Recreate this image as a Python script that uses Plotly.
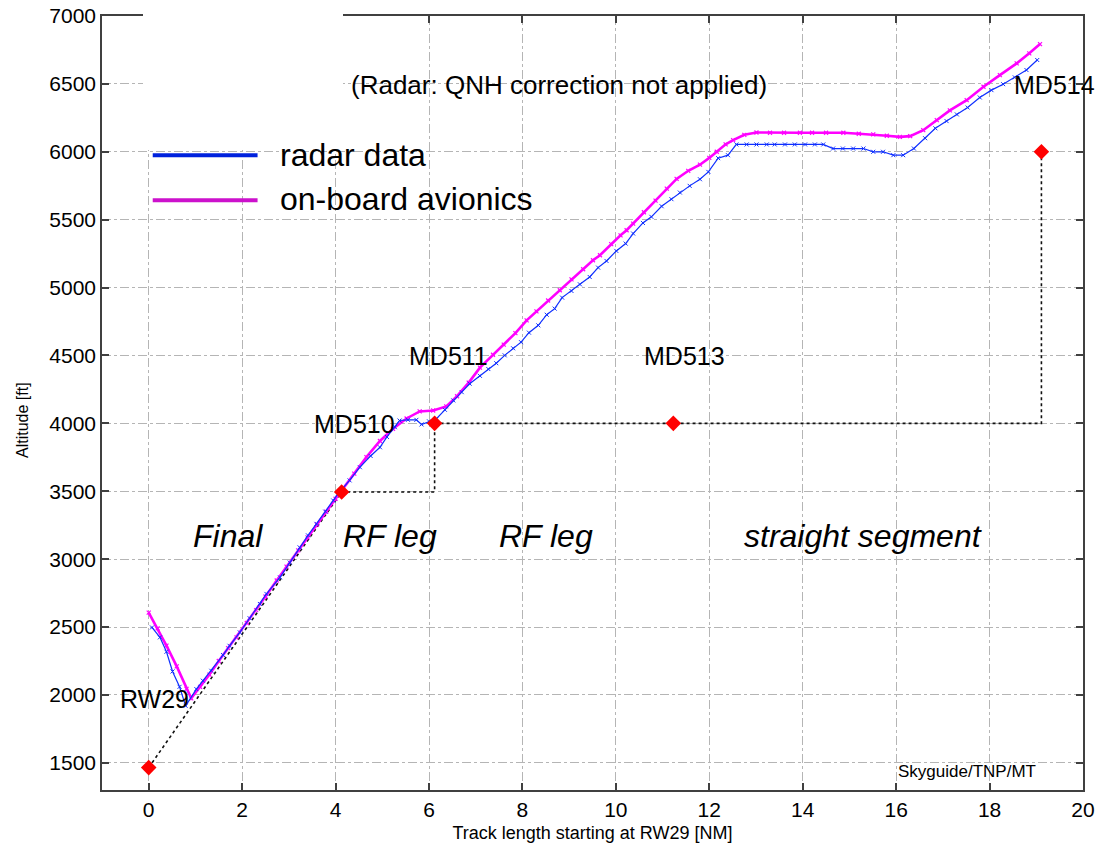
import plotly.graph_objects as go

# ---------------- data ----------------
radar_x = [0.07, 0.24, 0.38, 0.51, 0.66, 0.79, 1.02, 1.16, 1.34, 1.59, 1.73, 1.95, 2.16, 2.38, 2.52,
           2.81, 3.02, 3.23, 3.41, 3.59, 3.78, 3.95, 4.05, 4.30, 4.52, 4.75, 4.95, 5.10, 5.27, 5.37,
           5.55, 5.73, 5.84, 6.00, 6.16, 6.34, 6.52, 6.70, 6.87, 7.09, 7.27, 7.44, 7.62, 7.80, 7.97,
           8.14, 8.34, 8.52, 8.69, 8.85, 9.05, 9.23, 9.44, 9.62, 9.80, 10.01, 10.21, 10.37, 10.58,
           10.76, 10.98, 11.19, 11.37, 11.58, 11.80, 11.98, 12.19, 12.40, 12.58, 12.80, 13.01, 13.23,
           13.40, 13.62, 13.83, 14.05, 14.26, 14.44, 14.65, 14.86, 15.08, 15.30, 15.51, 15.72, 15.94,
           16.15, 16.38, 16.62, 16.84, 17.08, 17.30, 17.53, 17.79, 18.04, 18.29, 18.54, 18.79, 19.02]
radar_alt = [2497, 2424, 2318, 2173, 2060, 1920, 2043, 2105, 2178, 2294, 2362, 2461, 2565, 2670, 2744,
             2866, 2975, 3087, 3175, 3260, 3350, 3432, 3481, 3580, 3677, 3760, 3824, 3900, 3972, 4021,
             4026, 4026, 3992, 4015, 4034, 4100, 4169, 4230, 4292, 4350, 4400, 4443, 4501, 4553, 4598,
             4668, 4722, 4800, 4845, 4926, 4975, 5024, 5078, 5147, 5196, 5270, 5324, 5398, 5476,
             5521, 5599, 5651, 5700, 5749, 5798, 5852, 5953, 5975, 6054, 6054, 6054, 6054,
             6054, 6054, 6054, 6054, 6054, 6054, 6024, 6024, 6024, 6024, 6000, 6000, 5975,
             5975, 6024, 6100, 6173, 6226, 6275, 6326, 6400, 6454, 6498, 6548, 6602, 6676]

avionics_x = [0.00, 0.19, 0.38, 0.60, 0.81, 0.91, 1.10, 1.30, 1.50, 1.70, 1.88, 2.10, 2.30, 2.50, 2.74,
              2.95, 3.20, 3.40, 3.60, 3.80, 4.00, 4.13, 4.40, 4.66, 4.95, 5.23, 5.52, 5.80, 6.09, 6.37,
              6.60, 6.85, 7.09, 7.37, 7.60, 7.85, 8.09, 8.30, 8.55, 8.80, 9.05, 9.30, 9.51, 9.66, 9.90,
              10.10, 10.23, 10.37, 10.60, 10.85, 11.09, 11.30, 11.55, 11.80, 12.00, 12.16, 12.35, 12.51,
              12.75, 13.01, 13.30, 13.60, 13.94, 14.20, 14.50, 14.87, 15.20, 15.51, 15.80, 16.08, 16.30,
              16.58, 16.87, 17.15, 17.51, 17.87, 18.22, 18.58, 18.85, 19.08]
avionics_alt = [2606, 2490, 2363, 2210, 2045, 1975, 2060, 2150, 2250, 2345, 2424, 2530, 2625, 2725, 2843,
                2945, 3065, 3160, 3255, 3350, 3445, 3505, 3630, 3751, 3870, 3960, 4036, 4088, 4095, 4125,
                4200, 4300, 4410, 4505, 4580, 4665, 4759, 4825, 4905, 4980, 5060, 5135, 5201, 5238, 5320,
                5385, 5422, 5471, 5555, 5640, 5729, 5800, 5860, 5905, 5955, 6000, 6055, 6086,
                6125, 6142, 6140, 6140, 6140, 6140, 6140, 6140, 6133, 6128, 6118, 6110, 6115,
                6159, 6233, 6305, 6380, 6479, 6565, 6651, 6725, 6793]

# published procedure (waypoints and constraint profile)
wp_names = ["RW29", "MD510", "MD511", "MD513", "MD514"]
wp_x = [0.0, 4.13, 6.12, 11.23, 19.11]
wp_alt = [1465, 3495, 4000, 4000, 6000]

profile_x = [0.0, 4.13, 6.12, 6.12, 19.11, 19.11]
profile_alt = [1465, 3495, 3495, 4000, 4000, 6000]

x_ticks = [0, 2, 4, 6, 8, 10, 12, 14, 16, 18, 20]
y_ticks = [1500, 2000, 2500, 3000, 3500, 4000, 4500, 5000, 5500, 6000, 6500, 7000]

segment_names = ["Final", "RF leg", "RF leg", "straight segment"]
segment_x = [1.69, 5.16, 8.50, 15.29]
segment_y = [3174, 3174, 3174, 3174]

# --------------- figure ---------------
FONT = "Liberation Sans, Arial, sans-serif"
fig = go.Figure()

fig.add_trace(go.Scatter(x=profile_x, y=profile_alt, mode="lines",
                         line=dict(color="#111111", width=1.6, dash="dot"), showlegend=False))
fig.add_trace(go.Scatter(x=avionics_x, y=avionics_alt, mode="lines+markers",
                         line=dict(color="#ff00ff", width=2.6),
                         marker=dict(symbol="x-thin", size=4, color="#ff00ff",
                                     line=dict(width=1.2, color="#ff00ff")),
                         showlegend=False))
fig.add_trace(go.Scatter(x=radar_x, y=radar_alt, mode="lines+markers",
                         line=dict(color="#1030ff", width=1.2),
                         marker=dict(symbol="x-thin", size=4, color="#1030ff",
                                     line=dict(width=1, color="#1030ff")),
                         showlegend=False))
fig.add_trace(go.Scatter(x=wp_x, y=wp_alt, mode="markers",
                         marker=dict(symbol="diamond", size=12, color="#ff0000"),
                         showlegend=False))

# page body margin is removed by post_script, so the figure fills the window
W, H = 1102, 851
L, R, T, B = 102, 19, 16, 61
PL, PT = 102, 16          # page position of plot area
pw, ph = W - L - R, H - T - B


def px(xp):
    return (xp - PL) / pw


def py(yp):
    return 1 - (yp - PT) / ph


shapes = [
    dict(type="rect", xref="paper", yref="paper", x0=px(143), x1=px(343), y0=py(150), y1=py(-4),
         fillcolor="white", line=dict(width=0), layer="above"),
    dict(type="rect", xref="paper", yref="paper", x0=px(258), x1=px(540), y0=py(226), y1=py(130),
         fillcolor="white", line=dict(width=0), layer="between"),
    # legend lines
    dict(type="line", xref="x", yref="y", x0=0.086, x1=2.33, y0=5975, y1=5975,
         line=dict(color="#0022dd", width=4), layer="above"),
    dict(type="line", xref="x", yref="y", x0=0.086, x1=2.33, y0=5643, y1=5643,
         line=dict(color="#cc11cc", width=4), layer="above"),
]
fig.update_layout(shapes=shapes)

ann = []
ann.append(dict(x=2.76, y=5975, text="radar data", xanchor="left", yanchor="middle",
                font=dict(size=32, family=FONT, color="black")))
ann.append(dict(x=2.76, y=5650, text="on-board avionics", xanchor="left", yanchor="middle",
                font=dict(size=32, family=FONT, color="black")))
ann.append(dict(x=8.78, y=6491, text="(Radar: QNH correction not applied)", xanchor="center",
                yanchor="middle", font=dict(size=26, family=FONT, color="black")))
wp_lab_x = [0.13, 4.41, 6.42, 11.46, 19.38]
wp_lab_y = [1972, 3992, 4493, 4493, 6491]
for n, lx, ly in zip(wp_names, wp_lab_x, wp_lab_y):
    ann.append(dict(x=lx, y=ly, text=n, xanchor="center", yanchor="middle",
                    font=dict(size=25, family=FONT, color="black")))
for n, sx, sy in zip(segment_names, segment_x, segment_y):
    ann.append(dict(x=sx, y=sy, text="<i>" + n + "</i>", xanchor="center", yanchor="middle",
                    font=dict(size=32, family=FONT, color="black")))
ann.append(dict(x=16.0, y=1434, text="Skyguide/TNP/MT", xanchor="left", yanchor="middle",
                font=dict(size=17, family=FONT, color="black")))
for a in ann:
    a.update(showarrow=False, xref="x", yref="y")
# y-axis title as annotation (placed like the reference)
ann.append(dict(x=px(22), y=py(420), xref="paper", yref="paper", text="Altitude [ft]",
                textangle=-90, showarrow=False, xanchor="center", yanchor="middle",
                font=dict(size=16, family=FONT, color="black")))
fig.update_layout(annotations=ann)

axis_common = dict(showgrid=True, gridcolor="#b5b5b5", griddash="dashdot", gridwidth=1,
                   zeroline=False, showline=True, linecolor="#404040", linewidth=1.6,
                   mirror="allticks", ticks="inside", ticklen=7, tickwidth=1.6,
                   tickcolor="#404040", automargin=False, ticklabeloverflow="allow",
                   tickfont=dict(size=21, family=FONT, color="black"))
fig.update_xaxes(range=[-1, 20], tickvals=x_ticks, ticktext=[str(v) for v in x_ticks],
                 title=dict(text="Track length starting at RW29 [NM]", standoff=6,
                            font=dict(size=18, family=FONT, color="black")),
                 **axis_common)
fig.update_yaxes(range=[1300, 7000], tickvals=y_ticks, ticktext=[str(v) for v in y_ticks],
                 **axis_common)

fig.update_layout(width=W, height=H, margin=dict(l=L, r=R, t=T, b=B),
                  plot_bgcolor="white", paper_bgcolor="white", showlegend=False,
                  font=dict(family=FONT))

fig.write_html("out.html", config={"displayModeBar": False},
               post_script="document.body.style.margin='0';document.body.style.padding='0';")
